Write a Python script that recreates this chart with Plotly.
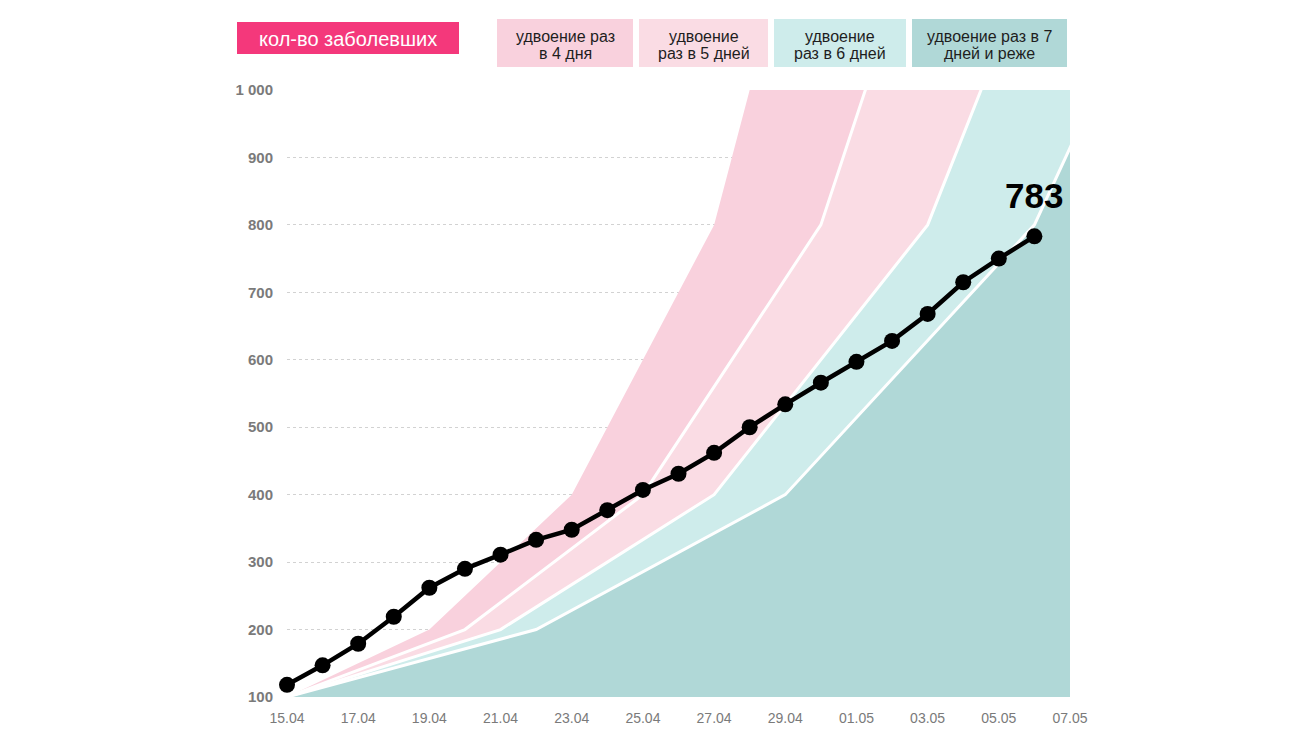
import plotly.graph_objects as go

# Observed cases (15.04 .. 06.05)
case_dates = ["2020-04-%02d" % d for d in range(15, 31)] + ["2020-05-%02d" % d for d in range(1, 7)]
cases = [118, 147, 179, 219, 262, 290, 311, 333, 348, 377, 407, 431, 462, 500,
         534, 566, 597, 628, 668, 715, 750, 783]

# Doubling-scenario boundaries (breakpoints)
d4_dates = ["2020-04-15", "2020-04-19", "2020-04-23", "2020-04-27", "2020-05-01"]
d4_vals = [100, 200, 400, 800, 1600]
d5_dates = ["2020-04-15", "2020-04-20", "2020-04-25", "2020-04-30", "2020-05-05"]
d5_vals = [100, 200, 400, 800, 1600]
d6_dates = ["2020-04-15", "2020-04-21", "2020-04-27", "2020-05-03", "2020-05-09"]
d6_vals = [100, 200, 400, 800, 1600]
d7_dates = ["2020-04-15", "2020-04-22", "2020-04-29", "2020-05-06", "2020-05-13"]
d7_vals = [100, 200, 400, 800, 1600]

y_ticks = [100, 200, 300, 400, 500, 600, 700, 800, 900, 1000]
y_labels = ["100", "200", "300", "400", "500", "600", "700", "800", "900", "1 000"]
x_ticks = ["2020-04-15", "2020-04-17", "2020-04-19", "2020-04-21", "2020-04-23", "2020-04-25",
           "2020-04-27", "2020-04-29", "2020-05-01", "2020-05-03", "2020-05-05", "2020-05-07"]
x_labels = ["15.04", "17.04", "19.04", "21.04", "23.04", "25.04",
            "27.04", "29.04", "01.05", "03.05", "05.05", "07.05"]

main_label = "кол-во заболевших"
legend_labels = [("удвоение раз", "в 4 дня"), ("удвоение", "раз в 5 дней"),
                 ("удвоение", "раз в 6 дней"), ("удвоение раз в 7", "дней и реже")]

C4 = "#f9d1dd"
C5 = "#fadce4"
C6 = "#ceeceb"
C7 = "#b0d8d7"
HOT = "#f4387b"
FONT = "Liberation Sans"

fig = go.Figure()
# fills
fig.add_trace(go.Scatter(x=d7_dates, y=d7_vals, mode="lines", line=dict(width=0),
                         fill="tozeroy", fillcolor=C7, hoverinfo="skip", showlegend=False))
fig.add_trace(go.Scatter(x=d6_dates, y=d6_vals, mode="lines", line=dict(width=0),
                         fill="tonexty", fillcolor=C6, hoverinfo="skip", showlegend=False))
fig.add_trace(go.Scatter(x=d5_dates, y=d5_vals, mode="lines", line=dict(width=0),
                         fill="tonexty", fillcolor=C5, hoverinfo="skip", showlegend=False))
fig.add_trace(go.Scatter(x=d4_dates, y=d4_vals, mode="lines", line=dict(width=0),
                         fill="tonexty", fillcolor=C4, hoverinfo="skip", showlegend=False))
# white separators
for dd, vv in [(d7_dates, d7_vals), (d6_dates, d6_vals), (d5_dates, d5_vals)]:
    fig.add_trace(go.Scatter(x=dd, y=vv, mode="lines", line=dict(color="white", width=3),
                             hoverinfo="skip", showlegend=False))
# cases
fig.add_trace(go.Scatter(x=case_dates, y=cases, mode="lines+markers",
                         line=dict(color="black", width=4.5),
                         marker=dict(color="black", size=16),
                         showlegend=False, cliponaxis=False))

fig.add_annotation(x=case_dates[-1], y=cases[-1], text="<b>783</b>", showarrow=False,
                   yshift=41, font=dict(family=FONT, size=35, color="black"))

# target geometry in the viewport: plot area x 287..1070, y 90..697 (page has 8px body margin)
OFF = 8
L, R, T, B = 287, 1070, 90, 697
def px(x):
    return (x - L) / (R - L)
def py(y):
    return (B - y) / (B - T)

shapes = []
shapes.append(dict(type="rect", xref="paper", yref="paper", x0=px(237), x1=px(459),
                   y0=py(54), y1=py(22), fillcolor=HOT, line=dict(width=0), layer="below"))
fig.add_annotation(xref="paper", yref="paper", x=px(348), y=py(39), text=main_label,
                   xanchor="center", yanchor="middle", showarrow=False,
                   font=dict(family=FONT, size=20, color="white"))
boxes = [(497, 633, C4), (639, 768, C5), (774, 906, C6), (912, 1067, C7)]
for (x0, x1, c), (l1, l2) in zip(boxes, legend_labels):
    shapes.append(dict(type="rect", xref="paper", yref="paper", x0=px(x0), x1=px(x1),
                       y0=py(67), y1=py(19), fillcolor=c, line=dict(width=0), layer="below"))
    for txt, yy in [(l1, 37), (l2, 54)]:
        fig.add_annotation(xref="paper", yref="paper", x=px((x0 + x1) / 2), y=py(yy), text=txt,
                           xanchor="center", yanchor="middle", showarrow=False,
                           font=dict(family=FONT, size=16, color="#1e1e1e"))

fig.update_layout(
    width=1300, height=734,
    margin=dict(l=L - OFF, r=1300 - R + OFF, t=T - OFF, b=734 - B + OFF),
    paper_bgcolor="white", plot_bgcolor="white",
    shapes=shapes,
    xaxis=dict(type="date", range=["2020-04-15", "2020-05-07"], tickvals=x_ticks,
               ticktext=x_labels, showgrid=False, zeroline=False, showline=False,
               ticks="", tickfont=dict(family=FONT, size=14, color="#7a7a7a"), ticklabelstandoff=11),
    yaxis=dict(range=[100, 1000], tickvals=y_ticks, ticktext=y_labels,
               showgrid=True, gridcolor="#d2d2d2", griddash="3px,3px", gridwidth=1,
               zeroline=False, showline=False, ticks="",
               tickfont=dict(family=FONT, size=15, color="#7a7a7a", weight="bold"),
               ticklabelstandoff=13),
)

fig.write_html("out.html")
